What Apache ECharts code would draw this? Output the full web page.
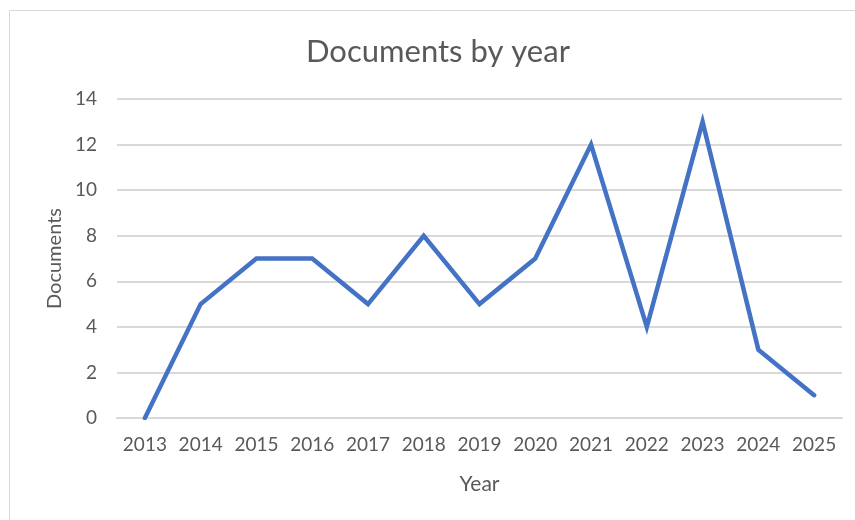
<!DOCTYPE html>
<html><head><meta charset="utf-8">
<script src="https://cdn.jsdelivr.net/npm/echarts@6/dist/echarts.min.js"></script>
<style>html,body{margin:0;padding:0;background:#fff}#c{width:855px;height:520px}</style>
</head><body><div id="c"></div>
<script>
const years = ['2013','2014','2015','2016','2017','2018','2019','2020','2021','2022','2023','2024','2025'];
const documents = [0,5,7,7,5,8,5,7,12,4,13,3,1];
const titleText = 'Documents by year';
const xName = 'Year';
const yName = 'Documents';
const font = "Lato, 'Open Sans', sans-serif";
const chart = echarts.init(document.getElementById('c'));
chart.setOption({
  animation:false,
  graphic:[{type:'rect',shape:{x:9.5,y:10.5,width:900,height:600},style:{fill:'none',stroke:'#d9d9d9',lineWidth:1}}],
  title:{text:titleText,left:301,top:31,textStyle:{fontFamily:font,fontSize:31,fontWeight:'normal',color:'#595959'}},
  grid:{left:117,right:13,top:99,bottom:102},
  xAxis:{type:'category',data:years,boundaryGap:true,name:xName,nameLocation:'middle',nameGap:56,
    nameTextStyle:{fontFamily:font,fontSize:21,color:'#595959'},
    axisLine:{lineStyle:{color:'#d9d9d9',width:2}},axisTick:{show:false},
    axisLabel:{fontFamily:font,fontSize:19,color:'#595959',margin:17,interval:0}},
  yAxis:{type:'value',min:0,max:14,interval:2,name:yName,nameLocation:'middle',nameGap:52,
    nameTextStyle:{fontFamily:font,fontSize:20,color:'#595959'},
    axisLine:{show:false},axisTick:{show:false},
    splitLine:{lineStyle:{color:'#d9d9d9',width:2}},
    axisLabel:{fontFamily:font,fontSize:19,color:'#595959',margin:20}},
  series:[{type:'line',data:documents,showSymbol:false,symbol:'none',
    lineStyle:{color:'#4472C4',width:4.5,join:'miter',cap:'round'}}]
});
</script></body></html>
